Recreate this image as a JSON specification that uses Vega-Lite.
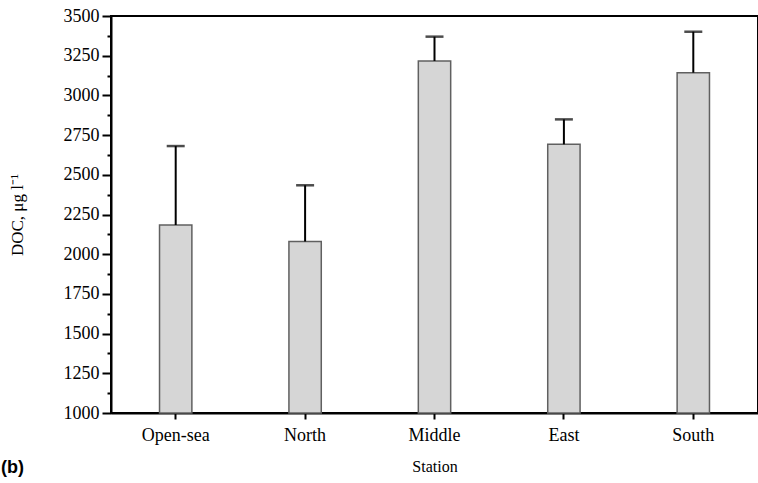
{
  "$schema": "https://vega.github.io/schema/vega-lite/v6.json",
  "autosize": "none",
  "width": 647,
  "height": 397,
  "padding": {"left": 111, "top": 16, "right": 0, "bottom": 70},
  "background": "white",
  "config": {
    "view": {"stroke": "black", "strokeWidth": 2},
    "font": "Liberation Serif",
    "axis": {
      "labelFont": "Liberation Serif",
      "titleFont": "Liberation Serif",
      "labelColor": "black",
      "titleColor": "black",
      "tickColor": "black",
      "domainColor": "black",
      "tickWidth": 2,
      "domainWidth": 2,
      "labelFontSize": 18,
      "titleFontWeight": "normal",
      "grid": false
    }
  },
  "title": {
    "text": "(b)",
    "orient": "bottom",
    "anchor": "start",
    "frame": "bounds",
    "font": "Liberation Sans",
    "fontSize": 18,
    "fontWeight": "bold",
    "color": "black",
    "offset": -15,
    "dx": -7
  },
  "data": {
    "values": [
      {"station": "Open-sea", "doc": 2184, "upper": 2681},
      {"station": "North", "doc": 2080, "upper": 2434},
      {"station": "Middle", "doc": 3217, "upper": 3370},
      {"station": "East", "doc": 2692, "upper": 2849},
      {"station": "South", "doc": 3143, "upper": 3401}
    ]
  },
  "encoding": {
    "x": {
      "field": "station",
      "type": "nominal",
      "sort": null,
      "scale": {"paddingInner": 0.75, "paddingOuter": 0.375},
      "axis": {
        "title": "Station",
        "titleFontSize": 16,
        "titlePadding": 14,
        "labelAngle": 0,
        "labelPadding": 7,
        "tickSize": 6
      }
    },
    "y": {
      "field": "doc",
      "type": "quantitative",
      "scale": {"domain": [1000, 3500], "zero": false, "nice": false},
      "axis": {
        "title": "DOC, μg l⁻¹",
        "titleFontSize": 17,
        "titlePadding": 37,
        "values": [1000, 1125, 1250, 1375, 1500, 1625, 1750, 1875, 2000, 2125, 2250, 2375, 2500, 2625, 2750, 2875, 3000, 3125, 3250, 3375, 3500],
        "format": "d",
        "labelExpr": "datum.value % 250 === 0 ? datum.label : ''",
        "labelOverlap": false,
        "labelPadding": 3,
        "tickSize": {"condition": {"test": "datum.value % 250 === 0", "value": 9}, "value": 4}
      }
    }
  },
  "layer": [
    {
      "mark": {"type": "bar", "fill": "#d6d6d6", "stroke": "#606060", "strokeWidth": 1.5},
      "encoding": {
        "y2": {"datum": 1000}
      }
    },
    {
      "mark": {"type": "rule", "color": "black", "strokeWidth": 2},
      "encoding": {
        "y2": {"field": "upper"}
      }
    },
    {
      "mark": {"type": "tick", "color": "black", "thickness": 2.5, "size": 18, "orient": "horizontal"},
      "encoding": {
        "y": {
          "field": "upper",
          "type": "quantitative",
          "axis": {
            "title": "DOC, μg l⁻¹",
            "titleFontSize": 17,
            "titlePadding": 37,
            "values": [1000, 1125, 1250, 1375, 1500, 1625, 1750, 1875, 2000, 2125, 2250, 2375, 2500, 2625, 2750, 2875, 3000, 3125, 3250, 3375, 3500],
            "format": "d",
            "labelExpr": "datum.value % 250 === 0 ? datum.label : ''",
            "labelOverlap": false,
            "labelPadding": 3,
            "tickSize": {"condition": {"test": "datum.value % 250 === 0", "value": 9}, "value": 4}
          }
        }
      }
    }
  ]
}
